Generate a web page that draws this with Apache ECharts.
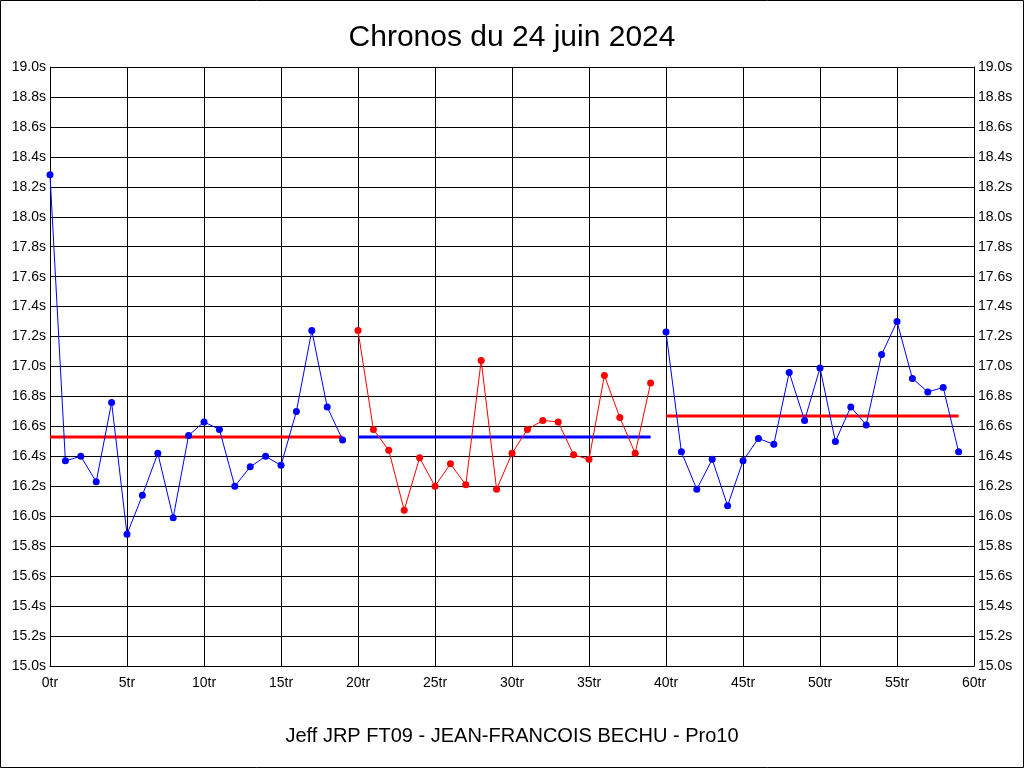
<!DOCTYPE html>
<html><head><meta charset="utf-8">
<script src="https://cdn.jsdelivr.net/npm/echarts@6/dist/echarts.min.js"></script>
<style>html,body{margin:0;padding:0;background:#fff}#c{width:1024px;height:768px}</style>
</head><body><div id="c"></div>
<script>
const titleText = 'Chronos du 24 juin 2024';
const subtitleText = 'Jeff JRP FT09 - JEAN-FRANCOIS BECHU - Pro10';
const seg1Laps = [0,1,2,3,4,5,6,7,8,9,10,11,12,13,14,15,16,17,18,19];
const seg1Times = [18.28,16.37,16.40,16.23,16.76,15.88,16.14,16.42,15.99,16.54,16.63,16.58,16.20,16.33,16.40,16.34,16.70,17.24,16.73,16.51];
const seg2Laps = [20,21,22,23,24,25,26,27,28,29,30,31,32,33,34,35,36,37,38,39];
const seg2Times = [17.24,16.58,16.44,16.04,16.39,16.20,16.35,16.21,17.04,16.18,16.42,16.58,16.64,16.63,16.41,16.38,16.94,16.66,16.42,16.89];
const seg3Laps = [40,41,42,43,44,45,46,47,48,49,50,51,52,53,54,55,56,57,58,59];
const seg3Times = [17.23,16.43,16.18,16.38,16.07,16.37,16.52,16.48,16.96,16.64,16.99,16.50,16.73,16.61,17.08,17.30,16.92,16.83,16.86,16.43];
const avgValues = [16.53,16.53,16.67];
const avgRanges = [[0,19],[20,39],[40,59]];
const segColors = ['#0000ff','#ff0000','#0000ff'];
const avgColors = ['#ff0000','#0000ff','#ff0000'];

const FONT = 'Liberation Sans, Arial, sans-serif';
const segs = [[seg1Laps,seg1Times],[seg2Laps,seg2Times],[seg3Laps,seg3Times]];
const series = [];
segs.forEach((s,i)=>{
  series.push({type:'line', data:s[0].map((x,j)=>[x,s[1][j]]), symbol:'circle', symbolSize:7,
    itemStyle:{color:segColors[i]}, lineStyle:{color:segColors[i], width:1}, animation:false, z:3});
  series.push({type:'line', data:avgRanges[i].map(x=>[x,avgValues[i]]), symbol:'none',
    lineStyle:{color:avgColors[i], width:3}, animation:false, z:2});
});
const chart = echarts.init(document.getElementById('c'));
const yLab = {fontFamily:FONT, fontSize:14, color:'#000', formatter:v=>v.toFixed(1)+'s'};
chart.setOption({
  backgroundColor:'#fff',
  title:[{text:titleText, left:'center', top:18, textStyle:{fontFamily:FONT, fontSize:30, fontWeight:'normal', color:'#000'}},
         {text:subtitleText, left:'center', top:721, textStyle:{fontFamily:FONT, fontSize:20, fontWeight:'normal', color:'#000'}}],
  grid:{left:50, right:50, top:67, bottom:102},
  xAxis:{type:'value', min:0, max:60, interval:5,
    axisLine:{lineStyle:{color:'#000', width:1}}, axisTick:{show:false},
    axisLabel:{fontFamily:FONT, fontSize:14, color:'#000', margin:10, formatter:v=>v+'tr'},
    splitLine:{show:true, lineStyle:{color:'#000', width:1}}},
  yAxis:[{type:'value', min:15, max:19, interval:0.2, position:'left',
    axisLine:{show:true, lineStyle:{color:'#000'}}, axisTick:{show:false}, axisLabel:Object.assign({margin:4}, yLab),
    splitLine:{show:true, lineStyle:{color:'#000', width:1}}},
    {type:'value', min:15, max:19, interval:0.2, position:'right',
    axisLine:{show:true, lineStyle:{color:'#000'}}, axisTick:{show:false}, axisLabel:Object.assign({margin:4}, yLab),
    splitLine:{show:false}}],
  graphic:[{type:'rect', shape:{x:0.5,y:0.5,width:1023,height:767}, style:{fill:null, stroke:'#000', lineWidth:1}, silent:true}],
  series:series
});
</script></body></html>
